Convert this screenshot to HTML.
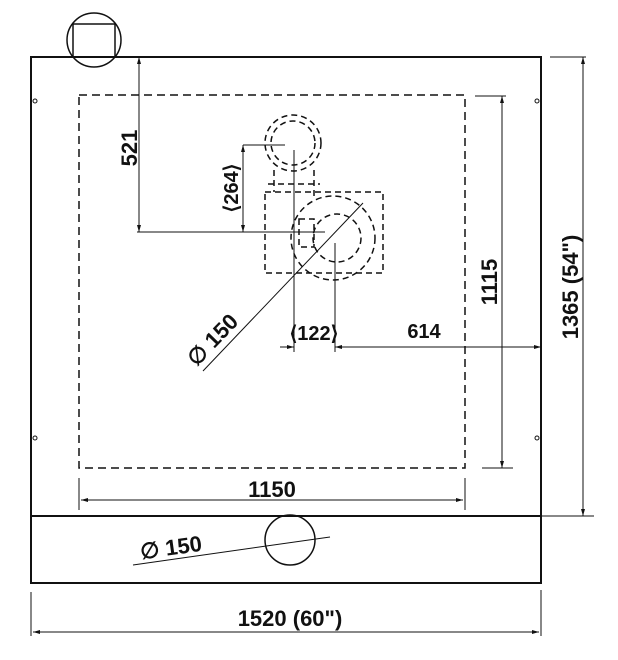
<!DOCTYPE html>
<html><head><meta charset="utf-8"><style>html,body{margin:0;padding:0;background:#fff}svg{display:block}text{font-family:"Liberation Sans",Arial,sans-serif;font-weight:bold;fill:#111}</style></head>
<body>
<svg width="618" height="660" viewBox="0 0 618 660" xmlns="http://www.w3.org/2000/svg">
<defs>
<marker id="a" markerWidth="8" markerHeight="6" refX="7" refY="3" orient="auto-start-reverse" markerUnits="userSpaceOnUse"><path d="M0,1 L7,3 L0,5Z" fill="#111"/></marker>
</defs>
<g fill="none" stroke="#111">
<rect x="31" y="57" width="510" height="526" stroke-width="2"/>
<line x1="31" y1="516" x2="541" y2="516" stroke-width="2"/>
<circle cx="94" cy="40" r="27" stroke-width="1.5"/>
<rect x="73" y="24" width="42" height="33" stroke-width="1.5"/>
<circle cx="35" cy="101" r="2"/><circle cx="35" cy="438" r="2"/>
<circle cx="537" cy="101" r="2"/><circle cx="537" cy="438" r="2"/>
<rect x="79" y="95" width="386" height="373" stroke-width="1.5" stroke-dasharray="8,5"/>
<g stroke-width="1.5" stroke-dasharray="6,4">
<circle cx="293" cy="143" r="28"/>
<circle cx="293" cy="143" r="22"/>
<rect x="265" y="192" width="118" height="81"/>
<circle cx="333" cy="238" r="42"/>
<circle cx="337" cy="238" r="24"/>
<rect x="299" y="219" width="15" height="28"/>
<line x1="268" y1="184" x2="320" y2="184"/>
<line x1="274" y1="170" x2="274" y2="192"/>
<line x1="314" y1="170" x2="314" y2="200"/>
</g>
<g stroke-width="1">
<line x1="139" y1="57" x2="139" y2="232" marker-start="url(#a)" marker-end="url(#a)"/>
<line x1="137" y1="232" x2="325" y2="232"/>
<line x1="243" y1="145" x2="243" y2="232" marker-start="url(#a)" marker-end="url(#a)"/>
<line x1="243" y1="145" x2="285" y2="145"/>
<line x1="294" y1="150" x2="294" y2="352"/>
<line x1="335" y1="243" x2="335" y2="352"/>
<line x1="280" y1="347" x2="294" y2="347" marker-end="url(#a)"/>
<line x1="335" y1="347" x2="541" y2="347" marker-start="url(#a)" marker-end="url(#a)"/>
<line x1="203" y1="371" x2="363" y2="203"/>
<line x1="502" y1="96" x2="502" y2="468" marker-start="url(#a)" marker-end="url(#a)"/>
<line x1="475" y1="96" x2="506" y2="96"/>
<line x1="482" y1="468" x2="513" y2="468"/>
<line x1="583" y1="57" x2="583" y2="516" marker-start="url(#a)" marker-end="url(#a)"/>
<line x1="550" y1="57" x2="586" y2="57"/>
<line x1="541" y1="516" x2="594" y2="516"/>
<line x1="79" y1="478" x2="79" y2="510"/>
<line x1="465" y1="478" x2="465" y2="510"/>
<line x1="81" y1="500" x2="463" y2="500" marker-start="url(#a)" marker-end="url(#a)"/>
<line x1="31" y1="592" x2="31" y2="636"/>
<line x1="541" y1="590" x2="541" y2="636"/>
<line x1="33" y1="632" x2="539" y2="632" marker-start="url(#a)" marker-end="url(#a)"/>
<line x1="133" y1="565" x2="330" y2="537"/>
</g>
<circle cx="290" cy="540" r="25" stroke-width="1.5"/>
</g>
<g font-size="22">
<text transform="translate(137,148) rotate(-90)" text-anchor="middle">521</text>
<text transform="translate(238,188) rotate(-90)" text-anchor="middle" font-size="20">⟨264⟩</text>
<text x="314" y="340" text-anchor="middle" font-size="20">⟨122⟩</text>
<text x="424" y="338" text-anchor="middle" font-size="20">614</text>
<text transform="translate(218,345) rotate(-46)" text-anchor="middle" font-size="22">∅ 150</text>
<text transform="translate(497,282) rotate(-90)" text-anchor="middle">1115</text>
<text transform="translate(578,287) rotate(-90)" text-anchor="middle">1365 (54")</text>
<text x="272" y="497" text-anchor="middle">1150</text>
<text x="290" y="626" text-anchor="middle">1520 (60")</text>
<text transform="translate(172,555) rotate(-8)" text-anchor="middle" font-size="22">∅ 150</text>
</g>
</svg>
</body></html>
